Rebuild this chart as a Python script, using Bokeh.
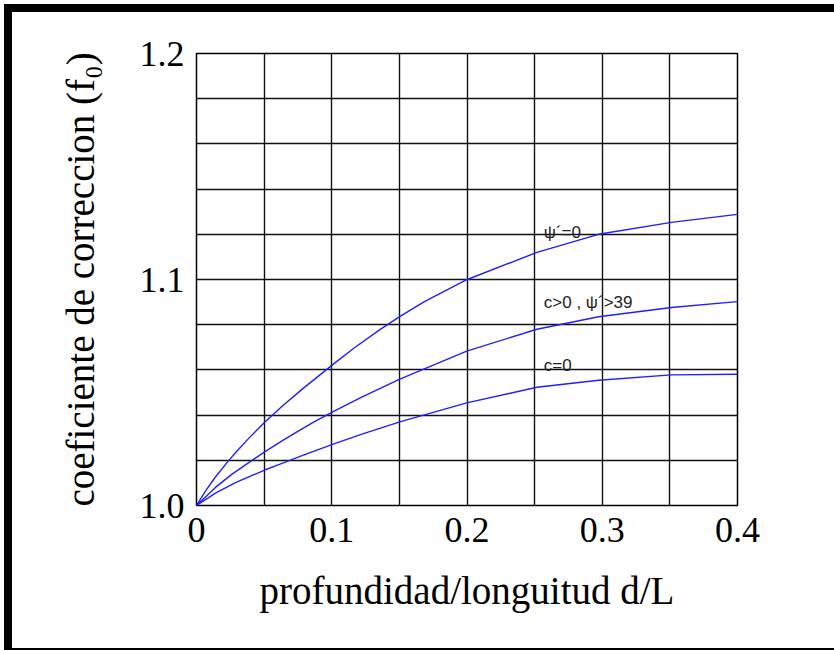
from bokeh.plotting import figure
from bokeh.layouts import column
from bokeh.models import Range1d, FixedTicker
from bokeh.core.properties import value
from bokeh.embed import file_html
from bokeh.resources import INLINE

# ---- data ----
x_psi0 = [0.0, 0.0066, 0.0140, 0.0231, 0.0303, 0.0386, 0.0506, 0.0635, 0.0782, 0.0915,
          0.1021, 0.1168, 0.1353, 0.1508, 0.1685, 0.1998, 0.2517, 0.2972, 0.3511, 0.3998]
y_psi0 = [1.0, 1.0064, 1.0126, 1.0194, 1.0243, 1.0297, 1.0369, 1.0440, 1.0515, 1.0579,
          1.0630, 1.0698, 1.0777, 1.0838, 1.0902, 1.0999, 1.1120, 1.1200, 1.1253, 1.1288]

x_c_pos = [0.0, 0.0140, 0.0263, 0.0386, 0.0504, 0.0632, 0.0755, 0.0866, 0.1021, 0.1218,
           0.1503, 0.1998, 0.2517, 0.2974, 0.3511, 0.3998]
y_c_pos = [1.0, 1.0080, 1.0139, 1.0190, 1.0237, 1.0286, 1.0330, 1.0369, 1.0419, 1.0478,
           1.0559, 1.0683, 1.0780, 1.0835, 1.0876, 1.0902]

x_c0 = [0.0, 0.0140, 0.0288, 0.0504, 0.0613, 0.0780, 0.1021, 0.1218, 0.1503, 0.1998,
        0.2517, 0.2974, 0.3511, 0.3998]
y_c0 = [1.0, 1.0055, 1.0101, 1.0157, 1.0182, 1.0221, 1.0274, 1.0315, 1.0370, 1.0454,
        1.0523, 1.0554, 1.0578, 1.0581]

curve_labels = ["\u03c8\u00b4=0", "c>0 , \u03c8\u00b4>39", "c=0"]
label_x = [0.2568, 0.2568, 0.2568]
label_y = [1.1208, 1.0898, 1.0619]

x_ticks = [0.0, 0.1, 0.2, 0.3, 0.4]
x_tick_labels = ["0", "0.1", "0.2", "0.3", "0.4"]
y_ticks = [1.0, 1.1, 1.2]
y_tick_labels = ["1.0", "1.1", "1.2"]
x_grid = [0.0, 0.05, 0.1, 0.15, 0.2, 0.25, 0.3, 0.35, 0.4]
y_grid = [1.0, 1.02, 1.04, 1.06, 1.08, 1.1, 1.12, 1.14, 1.16, 1.18, 1.2]

x_title = "profundidad/longuitud d/L"
y_title = "coeficiente de correccion (f\u2080)"

SERIF = "Liberation Serif"

p = figure(width=830, height=636, output_backend="svg", toolbar_location=None,
           x_range=Range1d(0, 0.4), y_range=Range1d(1.0, 1.2),
           min_border_left=184, min_border_right=105, min_border_top=41, min_border_bottom=143)
p.background_fill_color = "white"
p.border_fill_color = "white"
p.outline_line_color = "black"
p.outline_line_width = 1.5

# grids
p.xgrid.ticker = FixedTicker(ticks=x_grid)
p.ygrid.ticker = FixedTicker(ticks=y_grid)
for g in (p.xgrid, p.ygrid):
    g.grid_line_color = "#111111"
    g.grid_line_width = 1.4
    g.grid_line_alpha = 1.0

# axes
p.xaxis.ticker = FixedTicker(ticks=x_ticks)
p.yaxis.ticker = FixedTicker(ticks=y_ticks)
p.xaxis.major_label_overrides = {t: s for t, s in zip(x_ticks, x_tick_labels)}
p.yaxis.major_label_overrides = {t: s for t, s in zip(y_ticks, y_tick_labels)}
for ax in (p.xaxis, p.yaxis):
    ax.axis_line_color = None
    ax.major_tick_line_color = None
    ax.minor_tick_line_color = None
    ax.major_tick_out = 0
    ax.major_tick_in = 0
    ax.minor_tick_out = 0
    ax.major_label_text_font = SERIF
    ax.major_label_text_font_size = "36px"
    ax.major_label_text_color = "black"
    ax.axis_label_text_font = SERIF
    ax.axis_label_text_font_size = "39px"
    ax.axis_label_text_font_style = "normal"
    ax.axis_label_text_color = "black"
p.xaxis.axis_label = x_title
p.yaxis.axis_label = y_title
p.xaxis.major_label_standoff = 12
p.yaxis.major_label_standoff = 12
p.xaxis.axis_label_standoff = 24
p.yaxis.axis_label_standoff = 35

# curves
for xs, ys in ((x_psi0, y_psi0), (x_c_pos, y_c_pos), (x_c0, y_c0)):
    p.line(xs, ys, line_color="#1f1fff", line_width=1.4)

p.text(x=label_x, y=label_y, text=curve_labels, text_font=value("Liberation Sans"),
       text_font_size="17px", text_color="#222222", text_align="left", text_baseline="alphabetic")

# outer frame around the whole picture (its right side falls just outside the picture)
layout = column(p, styles={"margin": "4px", "border": "8px solid black"})

open("out.html", "w").write(file_html(layout, INLINE))
